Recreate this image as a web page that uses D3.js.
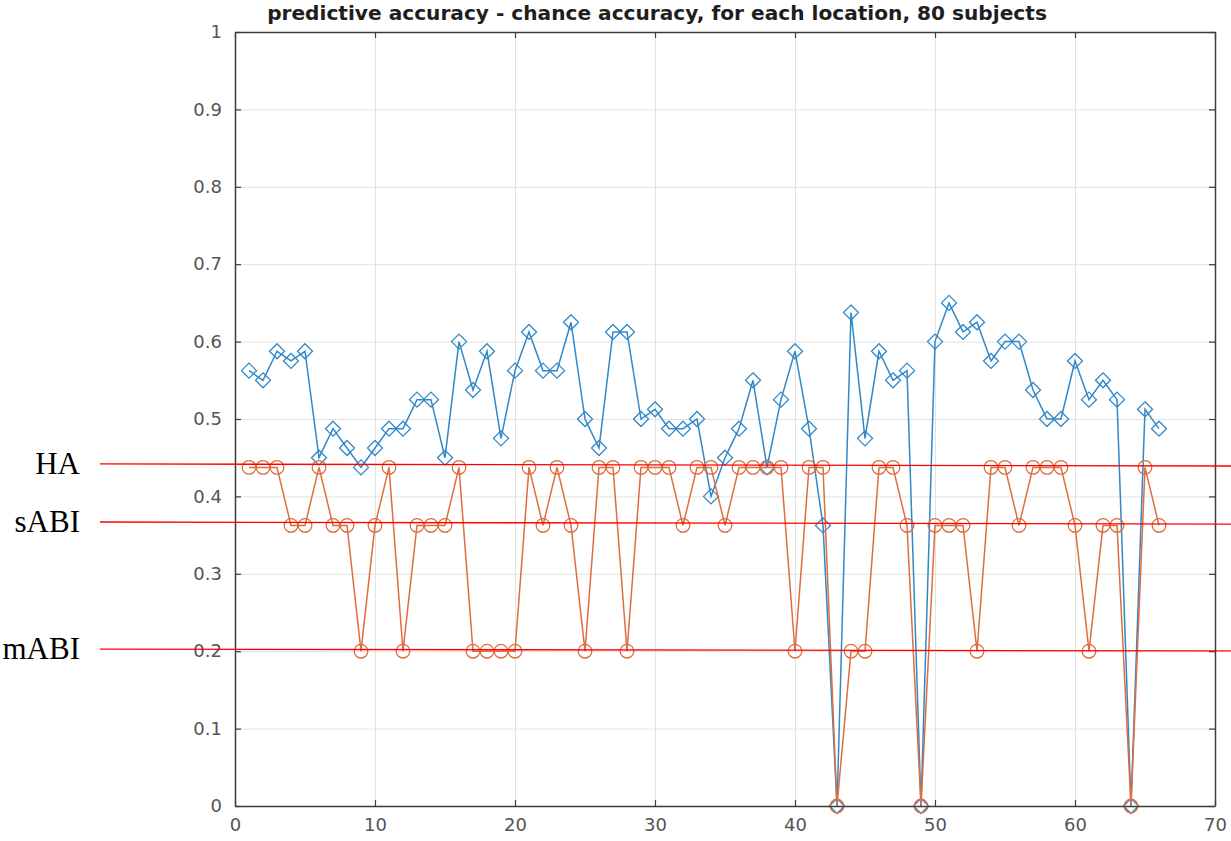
<!DOCTYPE html>
<html>
<head>
<meta charset="utf-8">
<script src="https://cdn.jsdelivr.net/npm/d3@7"></script>
<style>
  body { margin: 0; background: #fff; }
  svg { display: block; }
  .grid line { stroke: #e2e2e2; stroke-width: 1; }
  .grid .domain { display: none; }
  .axis .domain { stroke: #3c3c3c; stroke-width: 1.5; }
  .axis line { stroke: #3c3c3c; stroke-width: 1.2; }
  .axis text { fill: #555; font-family: "DejaVu Sans", sans-serif; font-size: 18px; }
</style>
</head>
<body>
<div id="chart"></div>
<script>
// location index 1..66
var locations = d3.range(1, 67);

// predictive accuracy (blue, diamonds)
var accuracy = [
  0.5625, 0.55, 0.5875, 0.575, 0.5875, 0.45, 0.4875, 0.4625, 0.4375, 0.4625,
  0.4875, 0.4875, 0.525, 0.525, 0.45, 0.6, 0.5375, 0.5875, 0.475, 0.5625,
  0.6125, 0.5625, 0.5625, 0.625, 0.5, 0.4625, 0.6125, 0.6125, 0.5, 0.5125,
  0.4875, 0.4875, 0.5, 0.4, 0.45, 0.4875, 0.55, 0.4375, 0.525, 0.5875,
  0.4875, 0.3625, 0, 0.6375, 0.475, 0.5875, 0.55, 0.5625, 0, 0.6,
  0.65, 0.6125, 0.625, 0.575, 0.6, 0.6, 0.5375, 0.5, 0.5, 0.575,
  0.525, 0.55, 0.525, 0, 0.5125, 0.4875
];

// chance accuracy (orange, circles)
var HA = 0.4375, SA = 0.3625, MA = 0.2;
var chance = [
  HA, HA, HA, SA, SA, HA, SA, SA, MA, SA,
  HA, MA, SA, SA, SA, HA, MA, MA, MA, MA,
  HA, SA, HA, SA, MA, HA, HA, MA, HA, HA,
  HA, SA, HA, HA, SA, HA, HA, HA, HA, MA,
  HA, HA, 0, MA, MA, HA, HA, SA, 0, SA,
  SA, SA, MA, HA, HA, SA, HA, HA, HA, SA,
  MA, SA, SA, 0, HA, SA
];

// hand-drawn reference lines (left / right value)
var refLabels = ["HA", "sABI", "mABI"];
var refLeft = [0.4419, 0.3669, 0.2028];
var refRight = [0.4393, 0.3643, 0.2003];

var xTicks = d3.range(0, 71, 10);
var yTicks = d3.range(0, 11).map(function(d) { return d / 10; });

var W = 1231, H = 841;
var margin = {left: 235, right: 16, top: 32, bottom: 35};

var svg = d3.select("#chart").append("svg")
  .attr("width", W)
  .attr("height", H);

var xScale = d3.scaleLinear().domain([0, 70]).range([margin.left, W - margin.right]);
var yScale = d3.scaleLinear().domain([0, 1]).range([H - margin.bottom, margin.top]);

//GRID
svg.append("g")
  .attr("class", "grid")
  .attr("transform", "translate(0," + margin.top + ")")
  .call(d3.axisTop(xScale).tickValues(xTicks).tickFormat("").tickSize(-(yScale(0) - yScale(1))));

svg.append("g")
  .attr("class", "grid")
  .attr("transform", "translate(" + margin.left + ",0)")
  .call(d3.axisLeft(yScale).tickValues(yTicks).tickFormat("").tickSize(-(xScale(70) - xScale(0))));

//LINES
var line = d3.line()
  .x(function(d) { return xScale(d[0]); })
  .y(function(d) { return yScale(d[1]); });

var blue = "#3088c8";
var orange = "#df6d3e";

var accData = locations.map(function(l, i) { return [l, accuracy[i]]; });
var chanceData = locations.map(function(l, i) { return [l, chance[i]]; });

svg.append("path")
  .datum(accData)
  .attr("d", line)
  .attr("fill", "none")
  .attr("stroke", blue)
  .attr("stroke-width", 1.5);

svg.selectAll(".dia")
  .data(accData)
  .enter().append("path")
  .attr("class", "dia")
  .attr("transform", function(d) { return "translate(" + xScale(d[0]) + "," + yScale(d[1]) + ")"; })
  .attr("d", "M0,-7.5L7.5,0L0,7.5L-7.5,0Z")
  .attr("fill", "none")
  .attr("stroke", blue)
  .attr("stroke-width", 1.3);

svg.append("path")
  .datum(chanceData)
  .attr("d", line)
  .attr("fill", "none")
  .attr("stroke", orange)
  .attr("stroke-width", 1.5);

svg.selectAll(".circ")
  .data(chanceData)
  .enter().append("circle")
  .attr("class", "circ")
  .attr("cx", function(d) { return xScale(d[0]); })
  .attr("cy", function(d) { return yScale(d[1]); })
  .attr("r", 6.8)
  .attr("fill", "none")
  .attr("stroke", orange)
  .attr("stroke-width", 1.3);

//AXES (box, ticks inward)
svg.append("g")
  .attr("class", "axis")
  .attr("transform", "translate(0," + yScale(0) + ")")
  .call(d3.axisBottom(xScale).tickValues(xTicks).tickSizeInner(-6).tickSizeOuter(0).tickPadding(12));

svg.append("g")
  .attr("class", "axis")
  .attr("transform", "translate(0," + yScale(1) + ")")
  .call(d3.axisTop(xScale).tickValues(xTicks).tickSizeInner(-6).tickSizeOuter(0).tickFormat(""));

svg.append("g")
  .attr("class", "axis")
  .attr("transform", "translate(" + xScale(0) + ",0)")
  .call(d3.axisLeft(yScale).tickValues(yTicks).tickSizeInner(-6).tickSizeOuter(0).tickPadding(13)
    .tickFormat(function(d) { return d === 0 || d === 1 ? d3.format("d")(d) : d3.format(".1f")(d); }));

svg.append("g")
  .attr("class", "axis")
  .attr("transform", "translate(" + xScale(70) + ",0)")
  .call(d3.axisRight(yScale).tickValues(yTicks).tickSizeInner(-6).tickSizeOuter(0).tickFormat(""));

//TITLE
var title = svg.append("text")
  .attr("x", 657)
  .attr("y", 20)
  .attr("text-anchor", "middle")
  .style("font-family", "'DejaVu Sans', sans-serif")
  .style("font-weight", "bold")
  .style("font-size", "19px")
  .style("fill", "#1e1e1e")
  .text("predictive accuracy - chance accuracy, for each location, 80 subjects");
// fit title to the width it has in the reference
var tw = title.node().getComputedTextLength();
title.style("font-size", (19 * 780 / tw) + "px");

//REFERENCE LINES + LABELS
refLabels.forEach(function(lab, i) {
  svg.append("line")
    .attr("x1", 100)
    .attr("x2", W)
    .attr("y1", yScale(refLeft[i]))
    .attr("y2", yScale(refRight[i]))
    .attr("stroke", "#ff0000")
    .attr("stroke-width", 1.3);

  svg.append("text")
    .attr("x", 80)
    .attr("y", yScale(refLeft[i]) + 10)
    .attr("text-anchor", "end")
    .style("font-family", "'Liberation Serif', 'Times New Roman', serif")
    .style("font-size", "31px")
    .style("fill", "#000")
    .text(lab);
});
</script>
</body>
</html>
